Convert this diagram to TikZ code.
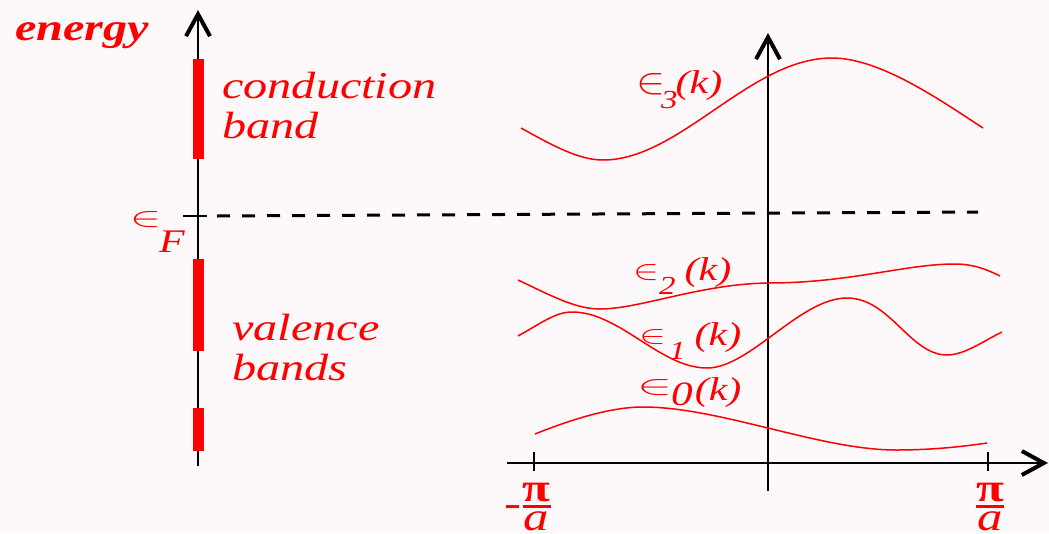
\documentclass[tikz,border=0pt]{standalone}
\usepackage{graphicx}
\usepackage{fontspec}
\setmainfont{Liberation Serif}
\newfontfamily\wide[FakeStretch=1.27]{Liberation Serif}
\usetikzlibrary{arrows.meta}
\definecolor{bg}{RGB}{253,248,250}
\newcommand{\epsym}[2]{\resizebox{#1}{#2}{$\in$}}
\begin{document}
\begin{tikzpicture}[x=1pt,y=-1pt,
  axisline/.style={line width=2pt, black},
  barb/.style={-{Straight Barb[length=22pt,width=24pt,line width=4pt]}},
  curve/.style={red, line width=1.5pt},
  lbl/.style={text=red, inner sep=0pt, anchor=base west},
  levelbar/.style={fill=red, draw=none}
]
\fill[bg] (0,0) rectangle (1049,533);
\useasboundingbox (0,0) rectangle (1049,533);

% left energy axis
\coordinate (L0) at (198,466);
\coordinate (L1) at (198,10);
\draw[axisline,barb] (L0) -- (L1);
\fill[levelbar] (193,59) rectangle (204,159);
\fill[levelbar] (193,259) rectangle (204,351);
\fill[levelbar] (193,408) rectangle (204,451);

% Fermi level
\coordinate (F0) at (183,216);
\coordinate (F1) at (207,216);
\draw[axisline] (F0) -- (F1);
\coordinate (D0) at (217,216);
\coordinate (D1) at (978,212);
\draw[line width=3pt, dash pattern=on 13pt off 12pt] (D0) -- (D1);

% right axes
\coordinate (H0) at (507,463);
\coordinate (H1) at (1048,463);
\draw[axisline,barb] (H0) -- (H1);
\coordinate (V0) at (768,491);
\coordinate (V1) at (768,33);
\draw[axisline,barb] (V0) -- (V1);
\coordinate (T0a) at (534,452);
\coordinate (T0b) at (534,471);
\draw[axisline] (T0a) -- (T0b);
\coordinate (T1a) at (988,452);
\coordinate (T1b) at (988,471);
\draw[axisline] (T1a) -- (T1b);

% bands
\draw[curve] (521,128) .. controls (555,147) and (580,160) .. (603,160)
  .. controls (680,160) and (750,58) .. (832,58)
  .. controls (880,58) and (940,100) .. (983,128);
\draw[curve] (518,280) .. controls (550,295) and (575,309) .. (600,309)
  .. controls (640,309) and (700,284) .. (768,283)
  .. controls (850,283) and (905,264) .. (955,264)
  .. controls (975,264) and (990,271) .. (1000,276);
\draw[curve] (518,336) .. controls (540,324) and (555,312) .. (572,312)
  .. controls (620,312) and (660,368) .. (707,368)
  .. controls (750,368) and (800,298) .. (847,298)
  .. controls (890,298) and (910,355) .. (947,355)
  .. controls (965,355) and (985,340) .. (1002,332);
\draw[curve] (535,434) .. controls (570,420) and (610,407) .. (643,407)
  .. controls (720,407) and (820,450) .. (896,450)
  .. controls (930,450) and (960,447) .. (987,443);

% labels
\node[lbl, font=\wide\bfseries\itshape\fontsize{38}{40}\selectfont] (energy) at (15,40) {energy};
\node[lbl, font=\wide\itshape\fontsize{38}{40}\selectfont] (cond) at (222,98) {conduction};
\node[lbl, font=\wide\itshape\fontsize{38}{40}\selectfont] (condb) at (222,138) {band};
\node[lbl, font=\wide\itshape\fontsize{38}{40}\selectfont] (val) at (232,340) {valence};
\node[lbl, font=\wide\itshape\fontsize{38}{40}\selectfont] (valb) at (232,380) {bands};
\node[lbl, font=\wide\itshape\fontsize{33}{33}\selectfont] (eF) at (130,226) {\epsym{31pt}{15pt}\hspace{-2pt}\raisebox{-26pt}{F}};

\node[lbl, font=\wide\itshape\fontsize{33}{33}\selectfont] (e3) at (636,93)
  {\epsym{29pt}{20pt}\hspace{-4pt}\raisebox{-15pt}{\fontsize{26}{26}\selectfont 3}\hspace{-2pt}(k)};
\node[lbl, font=\wide\itshape\fontsize{33}{33}\selectfont] (e2) at (633,280)
  {\raisebox{1pt}{\epsym{26pt}{15pt}}\raisebox{-14pt}{\fontsize{26}{26}\selectfont 2}\hspace{9pt}(k)};
\node[lbl, font=\wide\itshape\fontsize{33}{33}\selectfont] (e1) at (639,345)
  {\raisebox{2pt}{\epsym{27pt}{14pt}}\hspace{3pt}\raisebox{-14pt}{\fontsize{26}{26}\selectfont 1}\hspace{9pt}(k)};
\node[lbl, font=\wide\itshape\fontsize{33}{33}\selectfont] (e0) at (637,400)
  {\raisebox{6pt}{\epsym{35pt}{15pt}}\hspace{-1pt}\raisebox{-5pt}{\fontsize{34}{34}\selectfont 0}\hspace{2pt}(k)};

\node[text=red, inner sep=0pt, anchor=base, font=\wide\fontsize{40}{40}\selectfont] (pir) at (990,513)
  {${\hbox{\bfseries π}\above 3pt\hbox{\itshape a}}$};
\node[text=red, inner sep=0pt, anchor=base east, font=\wide\fontsize{40}{40}\selectfont] (pil) at (552,513)
  {\raisebox{-3pt}{-}${\hbox{\bfseries π}\above 3pt\hbox{\itshape a}}$};
\end{tikzpicture}
\end{document}
